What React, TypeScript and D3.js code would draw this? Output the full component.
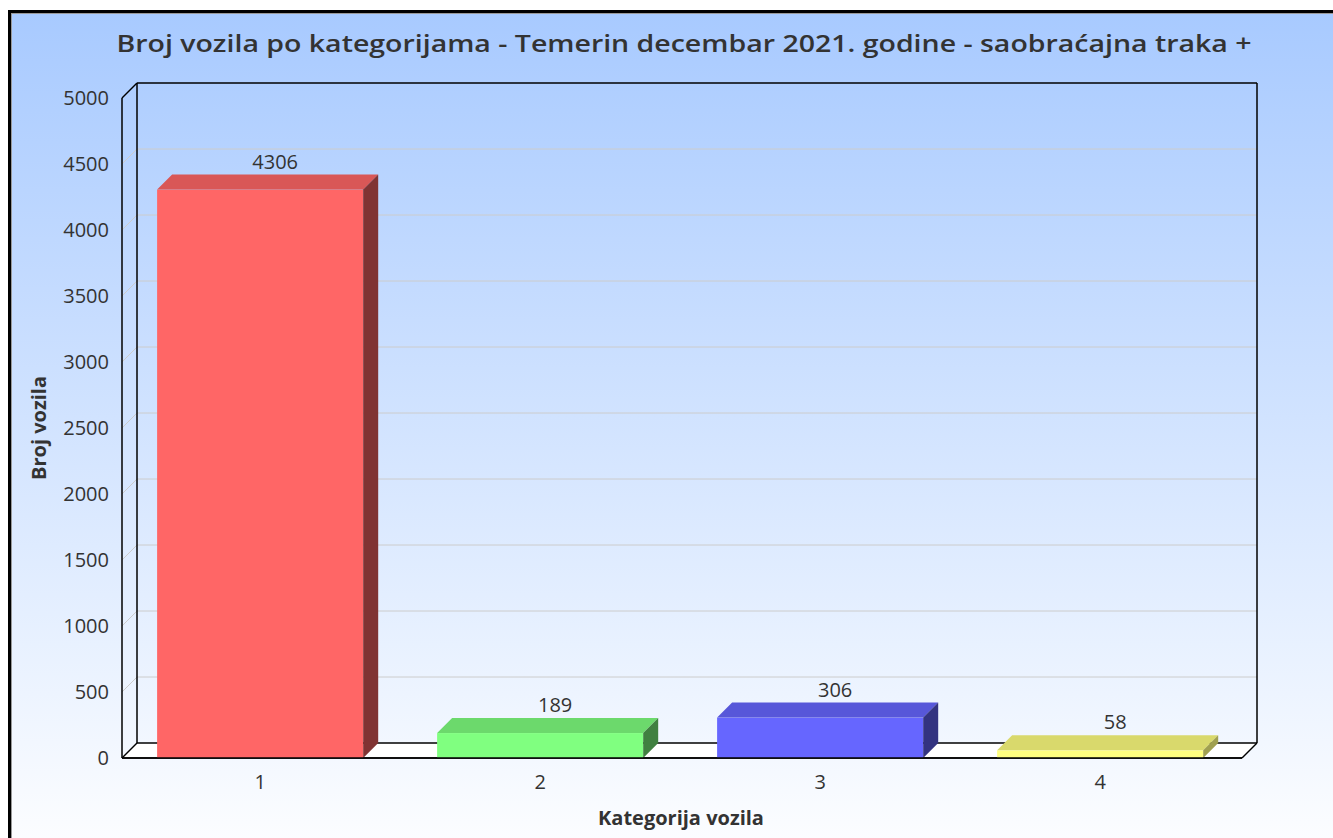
import React from "react";
import * as d3 from "d3";

const categories = ["1", "2", "3", "4"];
const values = [4306, 189, 306, 58];
const yTicks = [0, 500, 1000, 1500, 2000, 2500, 3000, 3500, 4000, 4500, 5000];

const frontColors = ["#ff6666", "#80ff80", "#6666ff", "#ffff80"];
const topColors = ["#d95757", "#6cd96c", "#5757d9", "#d9d96c"];
const sideColors = ["#803333", "#408040", "#333380", "#a0a050"];

const title = "Broj vozila po kategorijama - Temerin decembar 2021. godine - saobraćajna traka +";
const font = "'Open Sans', 'Noto Sans', sans-serif";

export default function App() {
  const W = 1333;
  const H = 838;
  const depth = 15;
  const left = 122;
  const right = 1242;
  const top = 98;
  const bottom = 758;

  const x = d3
    .scaleBand()
    .domain(categories)
    .range([left, right])
    .paddingInner(0.264)
    .paddingOuter(0.132)
    .align(0.475);

  const y = d3.scaleLinear().domain([0, 5000]).range([bottom, top]);

  const bw = x.bandwidth();

  return (
    <svg
      width={W}
      height={H}
      style={{ position: "absolute", left: 0, top: 0, display: "block" }}
      fontFamily={font}
    >
      <defs>
        <linearGradient id="bg" x1="0" y1="0" x2="0" y2="1">
          <stop offset="0" stopColor="#a8caff" />
          <stop offset="1" stopColor="#ffffff" />
        </linearGradient>
      </defs>
      <rect x={0} y={0} width={W} height={H} fill="#fff" />
      <rect x={11} y={13} width={W + 20} height={H + 20} fill="url(#bg)" />
      <rect
        x={9.5}
        y={11.5}
        width={W + 20}
        height={H + 20}
        fill="none"
        stroke="#000"
        strokeWidth={3}
      />
      <rect
        x={11.5}
        y={13.5}
        width={W + 20}
        height={H + 20}
        fill="none"
        stroke="#999"
        strokeWidth={1}
      />

      {/* title */}
      <text
        x={684}
        y={52}
        textAnchor="middle"
        fontSize={24}
        fontWeight={600}
        fill="#333"
        textLength={1135}
        lengthAdjust="spacingAndGlyphs"
      >
        {title}
      </text>

      {/* grid lines on back wall and left wall */}
      {yTicks.slice(1, -1).map((t) => (
        <g key={t} stroke="#ccc" strokeWidth={1}>
          <line x1={left + depth} x2={right + depth} y1={y(t) - depth} y2={y(t) - depth} />
          <line x1={left} x2={left + depth} y1={y(t)} y2={y(t) - depth} />
        </g>
      ))}

      {/* floor */}
      <polygon
        points={[
          [left, bottom],
          [right, bottom],
          [right + depth, bottom - depth],
          [left + depth, bottom - depth],
        ]
          .map((p) => p.join(","))
          .join(" ")}
        fill="#fff"
      />

      {/* frame */}
      <g stroke="#000" strokeWidth={1.5} fill="none">
        <line x1={left} x2={left} y1={top} y2={bottom} />
        <line x1={left + depth} x2={left + depth} y1={top - depth} y2={bottom - depth} />
        <line x1={left} x2={left + depth} y1={top} y2={top - depth} />
        <line x1={left + depth} x2={right + depth} y1={top - depth} y2={top - depth} />
        <line x1={right + depth} x2={right + depth} y1={top - depth} y2={bottom - depth} />
        <line x1={left + depth} x2={right + depth} y1={bottom - depth} y2={bottom - depth} />
        <line x1={left} x2={left + depth} y1={bottom} y2={bottom - depth} />
        <line x1={right} x2={right + depth} y1={bottom} y2={bottom - depth} />
        <line x1={left} x2={right} y1={bottom} y2={bottom} />
      </g>

      {/* bars */}
      {categories.map((c, i) => {
        const x0 = x(c) as number;
        const x1 = x0 + bw;
        const yv = y(values[i]);
        const topFace = [
          [x0, yv],
          [x1, yv],
          [x1 + depth, yv - depth],
          [x0 + depth, yv - depth],
        ];
        const sideFace = [
          [x1, yv],
          [x1 + depth, yv - depth],
          [x1 + depth, bottom - depth],
          [x1, bottom],
        ];
        return (
          <g key={c}>
            <rect x={x0} y={yv} width={bw} height={bottom - yv} fill={frontColors[i]} />
            <polygon points={topFace.map((p) => p.join(",")).join(" ")} fill={topColors[i]} />
            <polygon points={sideFace.map((p) => p.join(",")).join(" ")} fill={sideColors[i]} />
            <text
              x={x0 + bw / 2 + depth}
              y={yv - depth - 6}
              textAnchor="middle"
              fontSize={20}
              fill="#333"
            >
              {values[i]}
            </text>
          </g>
        );
      })}
      <line x1={left} x2={right} y1={bottom} y2={bottom} stroke="#000" strokeWidth={1.5} />

      {/* y tick labels */}
      {yTicks.map((t) => (
        <text key={t} x={109} y={y(t) + 7} textAnchor="end" fontSize={20} fill="#333">
          {t}
        </text>
      ))}

      {/* x tick labels */}
      {categories.map((c) => (
        <text
          key={c}
          x={(x(c) as number) + bw / 2}
          y={789}
          textAnchor="middle"
          fontSize={20}
          fill="#333"
        >
          {c}
        </text>
      ))}

      {/* axis titles */}
      <text
        x={681}
        y={825}
        textAnchor="middle"
        fontSize={20}
        fontWeight={700}
        fill="#333"
      >
        Kategorija vozila
      </text>
      <text
        transform={`translate(46,428) rotate(-90)`}
        textAnchor="middle"
        fontSize={20}
        fontWeight={700}
        fill="#333"
      >
        Broj vozila
      </text>
    </svg>
  );
}
